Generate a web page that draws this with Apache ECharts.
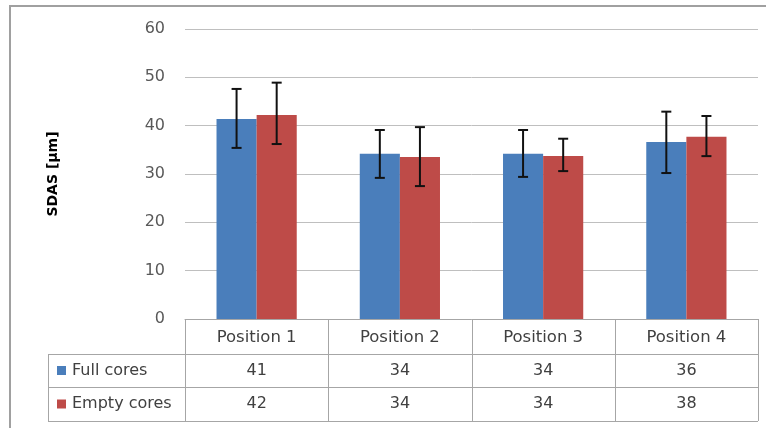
<!DOCTYPE html>
<html><head><meta charset="utf-8">
<script src="https://cdn.jsdelivr.net/npm/echarts@6/dist/echarts.min.js"></script>
<style>html,body{margin:0;padding:0;background:#fff}#c{width:766px;height:428px}</style>
</head><body><div id="c"></div>
<script>
const categories = ['Position 1', 'Position 2', 'Position 3', 'Position 4'];
const seriesNames = ['Full cores', 'Empty cores'];
const fullCores = [41.4, 34.2, 34.2, 36.6];
const emptyCores = [42.2, 33.5, 33.7, 37.7];
const fullLabels = [41, 34, 34, 36];
const emptyLabels = [42, 34, 34, 38];
const fullErrLow = [35.4, 29.2, 29.4, 30.2];
const fullErrHigh = [47.6, 39.1, 39.1, 42.9];
const emptyErrLow = [36.2, 27.5, 30.6, 33.7];
const emptyErrHigh = [48.9, 39.7, 37.3, 42.0];
const yTicks = [0, 10, 20, 30, 40, 50, 60];
const colors = ['#4a7ebb', '#be4b48'];

const FONT = '"DejaVu Sans", "Liberation Sans", sans-serif';
const G = { left: 185, right: 758, top: 29, bottom: 319 };
const tableLeft = 48;
const rowBounds = [319, 354, 387, 421];
const GAP = 0.44;

const chart = echarts.init(document.getElementById('c'), null, { renderer: 'canvas' });

const errData = [];
fullErrLow.forEach((v, i) => errData.push([i, v, fullErrHigh[i], 0]));
emptyErrLow.forEach((v, i) => errData.push([i, v, emptyErrHigh[i], 1]));

function tableGraphics() {
  const g = [];
  const lineStyle = { stroke: '#a6a6a6', lineWidth: 1 };
  const n = categories.length;
  const w = (G.right - G.left) / n;
  g.push({ type: 'rect', shape: { x: 10, y: 6, width: 800, height: 500 }, style: { fill: null, stroke: '#a0a0a0', lineWidth: 2 }, silent: true });
  for (let i = 0; i <= n; i++) {
    const x = Math.round(G.left + i * w) + 0.5;
    g.push({ type: 'line', shape: { x1: x, y1: rowBounds[0], x2: x, y2: rowBounds[3] }, style: lineStyle, silent: true });
  }
  g.push({ type: 'line', shape: { x1: tableLeft + 0.5, y1: rowBounds[1], x2: tableLeft + 0.5, y2: rowBounds[3] }, style: lineStyle, silent: true });
  for (let r = 1; r < 4; r++) {
    g.push({ type: 'line', shape: { x1: tableLeft, y1: rowBounds[r] + 0.5, x2: G.right, y2: rowBounds[r] + 0.5 }, style: lineStyle, silent: true });
  }
  const rows = [fullLabels, emptyLabels];
  rows.forEach((vals, r) => {
    const yc = (rowBounds[r + 1] + rowBounds[r + 2]) / 2;
    g.push({ type: 'rect', shape: { x: 57, y: yc - 4.5, width: 9, height: 9 }, style: { fill: colors[r] }, silent: true });
    g.push({ type: 'text', x: 72, y: yc, style: { text: seriesNames[r], fill: '#404040', font: '16px ' + FONT, textVerticalAlign: 'middle', textAlign: 'left' }, silent: true });
    vals.forEach((v, i) => {
      g.push({ type: 'text', x: G.left + (i + 0.5) * w, y: yc, style: { text: String(v), fill: '#404040', font: '16px ' + FONT, textAlign: 'center', textVerticalAlign: 'middle' }, silent: true });
    });
  });
  return g;
}

chart.setOption({
  animation: false,
  backgroundColor: '#fff',
  grid: { left: G.left, right: 766 - G.right, top: G.top, bottom: 428 - G.bottom, containLabel: false },
  xAxis: {
    type: 'category', data: categories,
    axisLine: { show: true, lineStyle: { color: '#a6a6a6', width: 1 } },
    axisTick: { show: false },
    axisLabel: { color: '#404040', fontSize: 16.5, fontFamily: FONT, margin: 10 }
  },
  yAxis: {
    type: 'value', min: yTicks[0], max: yTicks[yTicks.length - 1], interval: 10,
    name: 'SDAS [µm]', nameLocation: 'middle', nameGap: 125, nameRotate: 90,
    nameTextStyle: { color: '#000', fontSize: 14, fontWeight: 'bold', fontFamily: FONT },
    axisLine: { show: false }, axisTick: { show: false },
    axisLabel: { color: '#595959', fontSize: 16, fontFamily: FONT, margin: 20 },
    splitLine: { lineStyle: { color: '#bfbfbf', width: 1 } }
  },
  series: [
    { name: seriesNames[0], type: 'bar', data: fullCores, itemStyle: { color: colors[0] }, barGap: '0%', barCategoryGap: (GAP * 100) + '%' },
    { name: seriesNames[1], type: 'bar', data: emptyCores, itemStyle: { color: colors[1] }, barGap: '0%', barCategoryGap: (GAP * 100) + '%' },
    {
      type: 'custom', data: errData, z: 10,
      renderItem: function (params, api) {
        const cat = api.value(0);
        const lo = api.coord([cat, api.value(1)]);
        const hi = api.coord([cat, api.value(2)]);
        const band = api.size([1, 0])[0];
        const bw = band * (1 - GAP) / 2;
        const x = lo[0] + (api.value(3) === 0 ? -bw / 2 : bw / 2);
        const cap = 5;
        const st = { stroke: '#111', lineWidth: 2 };
        return { type: 'group', children: [
          { type: 'line', shape: { x1: x, y1: hi[1], x2: x, y2: lo[1] }, style: st },
          { type: 'line', shape: { x1: x - cap, y1: hi[1], x2: x + cap, y2: hi[1] }, style: st },
          { type: 'line', shape: { x1: x - cap, y1: lo[1], x2: x + cap, y2: lo[1] }, style: st }
        ] };
      }
    }
  ],
  graphic: tableGraphics()
});
</script></body></html>
